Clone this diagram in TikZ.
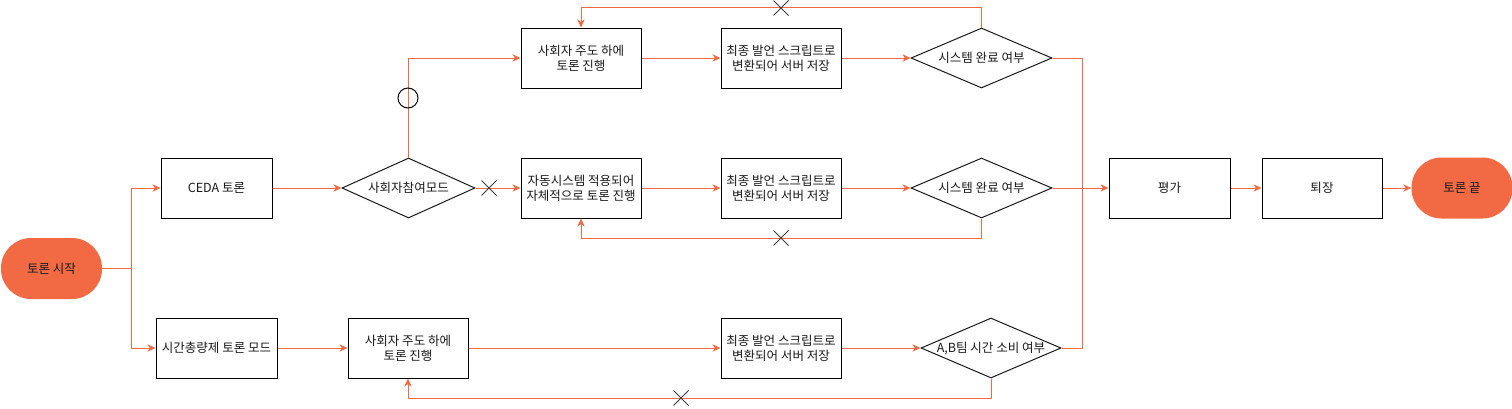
\documentclass[tikz,border=0pt]{standalone}
\usepackage{fontspec}
\setmainfont{Noto Sans CJK KR}
\usetikzlibrary{shapes.geometric,arrows.meta}
\definecolor{flow}{HTML}{F26A43}
\definecolor{ink}{HTML}{1A1A1A}
\tikzset{
  px/.style={x=0.75pt,y=-0.75pt},
  txt/.style={font=\fontsize{9.4}{11.4}\selectfont,text=ink,align=center},
  stepbox/.style={txt,draw=black,line width=0.75pt,fill=white,rectangle,inner sep=0pt,minimum height=45pt,minimum width=#1},
  stepbox/.default=90pt,
  dia/.style={draw=ink,line width=0.75pt,fill=white,diamond,inner sep=0pt,minimum width=#1,minimum height=45pt},
  dia/.default=105.75pt,
  pill/.style={txt,fill=flow,rectangle,rounded corners=22.5pt,minimum width=75.75pt,minimum height=45.75pt,inner sep=0pt},
  flowline/.style={draw=flow,line width=0.75pt},
  flowarrow/.style={flowline,-{Stealth[length=6pt,width=5.5pt,inset=1.8pt]}},
  xmark/.style={draw=ink!85,line width=0.75pt},
}
\begin{document}
\begin{tikzpicture}[px]
\useasboundingbox (0,0) rectangle (1512,408);
% nodes
\node[pill] (start) at (51.5,268.5) {토론 시작};
\node[stepbox=83.25pt] (ceda) at (216.5,188) {CEDA 토론};
\node[stepbox=90.75pt] (time) at (216.5,348) {시간총량제 토론 모드};
\node[dia=99.75pt,label={[txt]center:사회자참여모드}] (mode) at (408.5,188) {};
\node[stepbox] (top1) at (581,58) {사회자 주도 하에\\토론 진행};
\node[stepbox] (top2) at (781,58) {최종 발언 스크립트로\\변환되어 서버 저장};
\node[dia,label={[txt]center:시스템 완료 여부}] (topd) at (981.5,58) {};
\node[stepbox] (mid1) at (581,188) {자동시스템 적용되어\\자체적으로 토론 진행};
\node[stepbox] (mid2) at (781,188) {최종 발언 스크립트로\\변환되어 서버 저장};
\node[dia,label={[txt]center:시스템 완료 여부}] (midd) at (981.5,188) {};
\node[stepbox] (bot1) at (408,348) {사회자 주도 하에\\토론 진행};
\node[stepbox] (bot2) at (781,348) {최종 발언 스크립트로\\변환되어 서버 저장};
\node[dia=105pt,label={[txt]center:A,B팀 시간 소비 여부}] (botd) at (991,348) {};
\node[stepbox=90.75pt] (eval) at (1169.5,188) {평가};
\node[stepbox] (exit) at (1322,188) {퇴장};
\node[pill] (end) at (1462,188) {토론 끝};
% branch points
\coordinate (split) at (131,268.5);
\coordinate (merge) at (1082,188);
% connectors
\draw[flowline] (start.east) -- (split);
\draw[flowarrow] (split) |- (ceda.west);
\draw[flowarrow] (split) |- (time.west);
\draw[flowarrow] (ceda) -- (mode);
\draw[flowarrow] (mode.north) |- (top1.west);
\draw[flowarrow] (mode.east) -- (mid1.west);
\draw[flowarrow] (top1) -- (top2);
\draw[flowarrow] (top2) -- (topd);
\draw[flowarrow] (topd.north) -- ++(0,-20) -| (top1.north);
\draw[flowarrow] (mid1) -- (mid2);
\draw[flowarrow] (mid2) -- (midd);
\draw[flowarrow] (midd.south) -- ++(0,20) -| (mid1.south);
\draw[flowarrow] (time) -- (bot1);
\draw[flowarrow] (bot1) -- (bot2);
\draw[flowarrow] (bot2) -- (botd);
\draw[flowarrow] (botd.south) -- ++(0,20) -| (bot1.south);
\draw[flowline] (topd.east) -| (merge);
\draw[flowline] (botd.east) -| (merge);
\draw[flowarrow] (midd.east) -- (eval.west);
\draw[flowarrow] (eval) -- (exit);
\draw[flowarrow] (exit) -- (end);
% markers
\draw[draw=black,line width=0.75pt] (408,98) circle[radius=7.5pt];
\foreach \p in {(489,188),(781,8),(781,238),(681,398)}{
  \draw[xmark] \p ++(-7.5,-7.5) -- ++(15,15) \p ++(-7.5,7.5) -- ++(15,-15);
}
\end{tikzpicture}
\end{document}
